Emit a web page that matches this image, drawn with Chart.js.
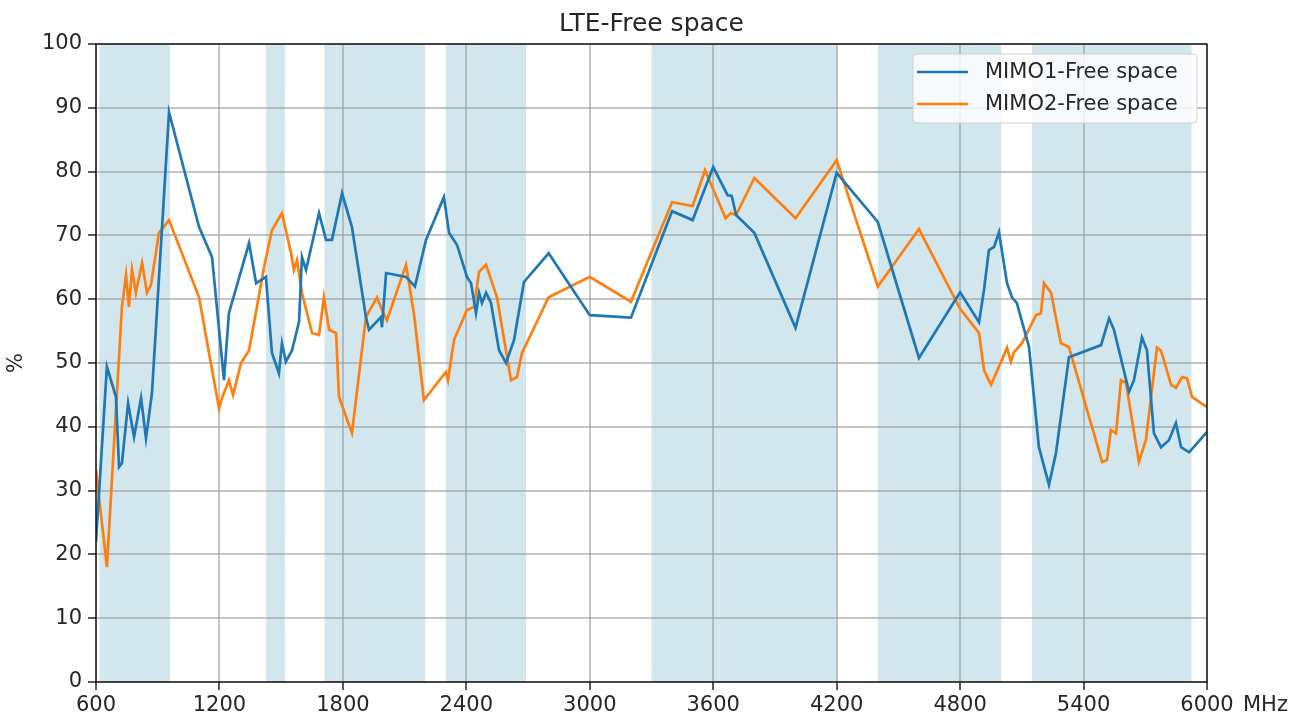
<!DOCTYPE html>
<html>
<head>
<meta charset="utf-8">
<script src="https://cdn.jsdelivr.net/npm/chart.js@4/dist/chart.umd.min.js"></script>
<style>
  body { margin: 0; background: #fff; }
  canvas { display: block; }
</style>
</head>
<body>
<canvas id="chart" width="1305" height="720"></canvas>
<script>
// Данные графика
const chartTitle = 'LTE-Free space';
const xTicks = [600, 1200, 1800, 2400, 3000, 3600, 4200, 4800, 5400, 6000];
const yTicks = [0, 10, 20, 30, 40, 50, 60, 70, 80, 90, 100];

// Полосы LTE (MHz)
const bandStart = [617, 1427, 1710, 2300, 3300, 4400, 5150];
const bandEnd   = [960, 1518, 2200, 2690, 4200, 5000, 5925];

const mimo1Label = 'MIMO1-Free space';
const mimo1Freq = [600, 653, 697, 712, 726, 756, 785, 819, 843, 872, 955, 1101, 1164, 1222, 1246,
  1344, 1378, 1426, 1455, 1489, 1504, 1523, 1553, 1587, 1601, 1621, 1684, 1718, 1747, 1796, 1844,
  1912, 1927, 1985, 1990, 2010, 2107, 2150, 2204, 2291, 2316, 2355, 2403, 2423, 2447, 2462, 2476,
  2496, 2520, 2559, 2593, 2632, 2680, 2800, 3000, 3200, 3400, 3500, 3600, 3670, 3690, 3711, 3800,
  4000, 4200, 4400, 4600, 4800, 4892, 4916, 4940, 4965, 4989, 5028, 5052, 5076, 5135, 5183, 5232,
  5266, 5329, 5485, 5524, 5548, 5621, 5645, 5684, 5708, 5742, 5776, 5815, 5849, 5874, 5913, 6000];
const mimo1Val = [22, 49.4, 44.7, 33.7, 34.3, 43.7, 38.4, 44.5, 38.2, 45.3, 89.3, 71.3, 66.6, 47.3, 57.8,
  68.8, 62.5, 63.5, 51.6, 48.4, 53.1, 50.2, 52, 56.5, 66.6, 64.6, 73.5, 69.3, 69.3, 76.6, 71.3,
  57.2, 55.2, 57.2, 55.6, 64.1, 63.5, 62, 69.3, 76, 70.4, 68.5, 63.5, 62.5, 57.8, 61, 59.4,
  61, 59.4, 52, 50, 53.6, 62.7, 67.2, 57.5, 57.1, 73.8, 72.4, 80.7, 76.3, 76.2, 73.2, 70.4,
  55.5, 79.8, 72.1, 50.8, 61.1, 56.4, 61.4, 67.7, 68.2, 70.5, 62.5, 60.3, 59.4, 52.5, 36.8, 30.9,
  35.9, 50.9, 52.8, 57, 55.2, 45.5, 47.3, 54, 52, 39, 36.8, 37.9, 40.6, 36.8, 36, 39.2];

const mimo2Label = 'MIMO2-Free space';
const mimo2Freq = [600, 653, 726, 746, 760, 775, 794, 824, 848, 867, 906, 955, 1101, 1149, 1198,
  1212, 1246, 1266, 1305, 1344, 1417, 1455, 1504, 1548, 1562, 1577, 1601, 1650, 1684, 1708, 1733,
  1767, 1781, 1844, 1912, 1966, 1990, 2014, 2107, 2145, 2194, 2301, 2311, 2340, 2403, 2437, 2462,
  2496, 2549, 2617, 2646, 2671, 2800, 3000, 3200, 3400, 3500, 3560, 3660, 3686, 3711, 3800, 4000,
  4200, 4400, 4600, 4800, 4892, 4916, 4950, 4989, 5028, 5047, 5062, 5101, 5169, 5193, 5208, 5242,
  5290, 5329, 5490, 5514, 5533, 5558, 5582, 5606, 5669, 5703, 5757, 5776, 5825, 5849, 5879, 5903,
  5927, 6000];
const mimo2Val = [33.2, 18, 58.8, 63.8, 58.8, 64.6, 61, 65.7, 61, 62.2, 70.4, 72.4, 60.3, 51.6, 42.9,
  44.5, 47.3, 45, 50, 52, 65, 70.8, 73.5, 67.2, 64.6, 66.1, 61, 54.7, 54.4, 60.3, 55.2,
  54.7, 44.7, 39, 57.2, 60.3, 58.3, 56.7, 65.4, 57.8, 44.2, 48.6, 47.3, 53.6, 58.3, 58.8, 64.3,
  65.4, 60.3, 47.3, 47.8, 51.6, 60.3, 63.5, 59.6, 75.2, 74.6, 80.2, 72.7, 73.5, 73.2, 79, 72.7,
  81.8, 62, 71, 58.5, 54.7, 48.9, 46.6, 49.4, 52.4, 50.2, 51.7, 53.1, 57.5, 57.8, 62.5, 61,
  53.1, 52.5, 34.5, 34.8, 39.5, 39, 47.3, 46.9, 34.5, 37.9, 52.4, 52, 46.6, 46.1, 47.8, 47.6,
  44.7, 43.1];

const FONT = 'DejaVu Sans';

function toPoints(xs, ys) {
    return xs.map((x, i) => ({ x: x, y: ys[i] }));
}

// Полосы, заголовок, рамка, легенда
const decorPlugin = {
    id: 'decor',
    beforeDraw(chart) {
        const { ctx, chartArea, scales } = chart;
        ctx.save();
        ctx.fillStyle = 'rgb(210, 230, 238)';
        for (let i = 0; i < bandStart.length; i++) {
            const x1 = scales.x.getPixelForValue(bandStart[i]);
            const x2 = scales.x.getPixelForValue(bandEnd[i]);
            ctx.fillRect(x1, chartArea.top, x2 - x1, chartArea.bottom - chartArea.top);
        }
        ctx.restore();
    },
    afterDraw(chart) {
        const { ctx, chartArea } = chart;
        ctx.save();
        // рамка
        ctx.strokeStyle = '#000';
        ctx.lineWidth = 1.3;
        ctx.strokeRect(chartArea.left, chartArea.top,
            chartArea.right - chartArea.left, chartArea.bottom - chartArea.top);

        // заголовок
        ctx.fillStyle = '#262626';
        ctx.font = '25px "' + FONT + '"';
        ctx.textAlign = 'center';
        ctx.textBaseline = 'alphabetic';
        ctx.fillText(chartTitle, (chartArea.left + chartArea.right) / 2, 31);

        // подпись MHz
        ctx.font = '21px "' + FONT + '"';
        ctx.textAlign = 'left';
        ctx.textBaseline = 'top';
        ctx.fillText('MHz', 1243, 695);

        // легенда
        const lx = 913, ly = 54, lw = 284, lh = 69;
        ctx.beginPath();
        ctx.roundRect(lx, ly, lw, lh, 4);
        ctx.fillStyle = 'rgba(255,255,255,0.8)';
        ctx.fill();
        ctx.strokeStyle = '#d0d0d0';
        ctx.lineWidth = 1;
        ctx.stroke();
        chart.data.datasets.forEach((ds, i) => {
            const y = 72 + i * 32;
            ctx.beginPath();
            ctx.moveTo(917, y);
            ctx.lineTo(968, y);
            ctx.strokeStyle = ds.borderColor;
            ctx.lineWidth = ds.borderWidth;
            ctx.stroke();
            ctx.fillStyle = '#262626';
            ctx.font = '21px "' + FONT + '"';
            ctx.textBaseline = 'middle';
            ctx.textAlign = 'left';
            ctx.fillText(ds.label, 985, y + 1);
        });
        ctx.restore();
    }
};

const ctx = document.getElementById('chart').getContext('2d');
new Chart(ctx, {
    type: 'line',
    data: {
        datasets: [{
            label: mimo1Label,
            data: toPoints(mimo1Freq, mimo1Val),
            borderColor: '#1f77b4',
            borderWidth: 2.7,
            pointRadius: 0,
            tension: 0,
            fill: false
        }, {
            label: mimo2Label,
            data: toPoints(mimo2Freq, mimo2Val),
            borderColor: '#ff7f0e',
            borderWidth: 2.7,
            pointRadius: 0,
            tension: 0,
            fill: false
        }]
    },
    options: {
        responsive: false,
        animation: false,
        devicePixelRatio: 1,
        layout: { padding: { top: 44, right: 98, bottom: 0, left: 0 } },
        plugins: {
            legend: { display: false },
            title: { display: false },
            tooltip: { enabled: false }
        },
        scales: {
            x: {
                type: 'linear',
                min: 600,
                max: 6000,
                afterFit(scale) { scale.height = 38; },
                afterBuildTicks(scale) { scale.ticks = xTicks.map(v => ({ value: v })); },
                border: { display: false },
                grid: {
                    color: 'rgba(150,150,150,0.55)',
                    lineWidth: 2,
                    tickColor: '#000',
                    tickLength: 8,
                    tickWidth: 1.3
                },
                ticks: {
                    color: '#262626',
                    font: { family: FONT, size: 21 },
                    padding: 3,
                    maxRotation: 0,
                    autoSkip: false,
                    callback: v => String(v)
                }
            },
            y: {
                min: 0,
                max: 100,
                afterFit(scale) { scale.width = 96; },
                afterBuildTicks(scale) { scale.ticks = yTicks.map(v => ({ value: v })); },
                border: { display: false },
                grid: {
                    color: 'rgba(150,150,150,0.55)',
                    lineWidth: 2,
                    tickColor: '#000',
                    tickLength: 8,
                    tickWidth: 1.3
                },
                ticks: {
                    color: '#262626',
                    font: { family: FONT, size: 21 },
                    padding: 6,
                    autoSkip: false,
                    callback: v => String(v)
                },
                title: {
                    display: true,
                    text: '%',
                    color: '#262626',
                    font: { family: FONT, size: 21 },
                    padding: { top: 4, bottom: 4 }
                }
            }
        }
    },
    plugins: [decorPlugin]
});
</script>
</body>
</html>
